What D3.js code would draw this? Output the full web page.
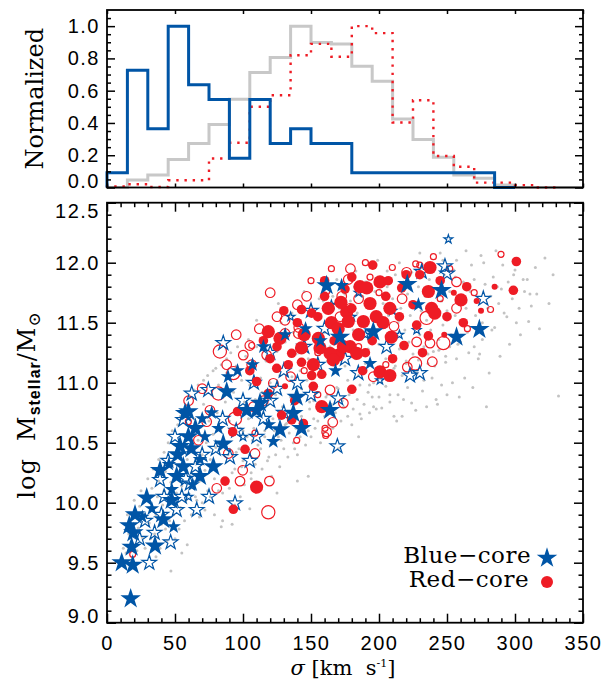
<!DOCTYPE html>
<html>
<head>
<meta charset="utf-8">
<script src="https://cdn.jsdelivr.net/npm/d3@7"></script>
<style>
  body { margin: 0; background: #fff; }
</style>
</head>
<body>
<div id="chart"></div>
<script>
// ---- data ----
// histogram: left bin edges (km/s) and normalized heights
var binEdges = [0,15,30,45,60,75,90,105,120,135,150,165,180,195,210,225,240,255,270,285,300,315,330,345];
var grayHist = [0,0.046,0.077,0.174,0.273,0.39,0.547,0.712,0.805,1.0,0.898,0.89,0.751,0.659,0.424,0.298,0.187,0.077,0.057,0.015,0,0,0,0];
var redHist  = [0.006,0.02,0.003,0.045,0.045,0.18,0.277,0.5,0.572,0.82,0.89,0.81,1.0,0.957,0.403,0.541,0.195,0.129,0.03,0.03,0.015,0];
var blueHist = [0.091,0.727,0.364,1.0,0.636,0.545,0.182,0.545,0.273,0.364,0.273,0.273,0.091,0.091,0.091,0.091,0.091,0.091,0.091,0];

var xTicks = [0,50,100,150,200,250,300,350];
var histTicks = [0,0.2,0.4,0.6,0.8,1.0];
var massTicks = [9.0,9.5,10.0,10.5,11.0,11.5,12.0,12.5];

// parent sample (grey dots): [sigma, logM]
var grayDots = [
 [14,9.58],[16,9.74],[19,9.66],[21,9.88],[23,9.79],[24,9.97],[26,9.71],[27,9.9],[29,10.02],[31,9.83],[32,9.96],[33,10.12],[35,9.74],[36,9.9],[37,10.05],[38,10.18],[40,9.82],[41,9.98],[42,10.1],[43,10.26],[44,9.68],[46,10.03],[47,9.43],[47,10.17],[48,10.31],[49,9.9],[51,10.08],[52,10.22],[53,10.38],[54,9.96],[55,9.58],[55,10.14],[56,10.47],[57,10.28],[58,10.02],[59,10.36],
 [60,10.58],[61,10.12],[62,10.25],[63,10.42],[64,10.7],[65,10.05],[66,10.33],[67,10.52],[68,10.18],[69,10.63],[70,10.4],[71,10.82],[72,10.27],[73,10.5],[74,10.1],[75,10.68],[76,10.36],[77,10.9],[78,10.57],[79,10.2],[80,10.46],[81,10.75],[82,10.98],[83,10.32],[84,10.62],[85,10.08],[86,10.5],[87,10.84],[88,11.08],[89,10.4],[90,10.68],[91,9.96],[92,10.56],[93,10.92],[94,10.28],[95,11.14],[96,10.76],[97,10.45],[98,10.62],[99,11.02],
 [100,10.35],[101,10.84],[102,11.22],[103,10.55],[104,10.7],[105,10.98],[106,10.2],[107,11.1],[108,10.62],[109,10.86],[110,11.3],[111,10.48],[112,10.75],[113,11.04],[114,10.92],[115,11.38],[116,10.6],[117,11.18],[118,10.82],[119,10.38],[120,11.0],[121,11.44],[122,10.7],[123,11.12],[124,10.9],[125,11.26],[126,10.55],[127,11.06],[128,11.5],[129,10.8],[130,10.98],[131,11.34],[132,10.66],[133,11.16],[134,11.56],[135,10.88],[136,11.05],[137,11.42],[138,10.45],[139,11.24],[140,10.76],[141,11.6],[142,11.1],[143,10.95],[144,11.32],[145,10.62],[146,11.48],[147,11.02],[148,11.2],[149,10.84],
 [150,11.64],[151,11.12],[152,10.7],[153,11.36],[154,10.98],[155,11.52],[156,11.25],[157,10.5],[158,11.06],[159,11.68],[160,11.42],[161,10.88],[162,11.18],[163,11.58],[164,11.3],[165,10.75],[166,11.72],[167,11.1],[168,11.46],[169,10.96],[170,11.24],[171,11.62],[172,11.36],[173,10.85],[174,11.75],[175,11.14],[176,11.52],[177,11.02],[178,11.3],[179,11.68],[180,10.92],[181,11.44],[182,11.8],[183,11.2],[184,11.58],[185,11.06],[186,10.74],[187,11.36],[188,11.72],[189,11.5],[190,11.16],[191,11.84],[192,11.28],[193,10.98],[194,11.62],[195,11.42],[196,10.8],[197,11.76],[198,11.1],[199,11.54],
 [200,11.32],[201,11.88],[202,11.0],[203,11.66],[204,11.46],[205,11.2],[206,11.8],[207,11.56],[208,10.9],[209,11.38],[210,11.7],[211,11.12],[212,11.9],[213,10.68],[214,11.5],[215,11.28],[216,11.62],[217,10.72],[218,11.84],[219,11.44],[220,11.18],[221,11.74],[222,11.34],[223,11.56],[224,11.92],[225,11.24],[226,11.66],[227,11.48],[228,11.08],[229,11.8],[230,11.4],[231,11.6],[232,11.96],[233,11.3],[234,11.72],[235,11.52],[236,11.16],[237,11.86],[238,11.44],[239,11.64],[240,11.26],[241,11.78],[242,11.56],[243,10.82],[244,11.36],[245,12.08],[246,11.68],[247,11.48],[248,11.9],[249,11.22],
 [250,11.6],[252,11.76],[253,11.4],[255,11.94],[256,11.56],[257,12.02],[258,11.32],[259,11.7],[261,11.5],[262,11.84],[264,11.62],[265,11.42],[267,11.76],[268,11.98],[270,11.3],[271,11.56],[272,11.68],[274,11.24],[275,12.06],[276,11.5],[278,11.82],[279,10.8],[280,11.62],[282,11.72],[284,11.88],[285,11.46],[286,12.1],[288,11.66],[290,11.78],[292,11.58],[295,11.84],[298,11.7],[300,11.94],[303,11.62],[306,11.86],[310,11.51],[311,11.74],[315,11.96],[322,12.04],[332,10.89],
 [12,9.62],[15,9.9],[18,9.52],[20,10.02],[22,9.6],[25,10.1],[28,9.62],[30,10.2],[32,9.7],[34,10.28],[36,9.55],[38,10.36],[39,9.62],[42,10.42],[43,9.78],[45,10.5],[46,9.85],[48,10.6],[50,9.7],[52,10.65],[53,9.78],[54,10.72],[57,9.85],[58,10.8],[59,9.65],
 [61,10.88],[62,9.9],[64,10.94],[66,10.02],[67,10.98],[68,9.88],[70,10.0],[71,11.02],[72,9.94],[74,11.06],[76,10.05],[78,11.1],[79,9.9],[80,11.12],[82,10.1],[84,11.15],[85,9.85],[86,10.2],[88,11.2],[90,10.12],[91,11.25],[92,10.25],[94,9.98],[95,10.42],[96,11.3],[98,10.05],[99,10.3],[84,9.8],[92,9.82],[105,9.95],[125,10.08],[140,10.18],[148,10.22],[170,10.45],[185,10.55],
 [100,10.6],[101,10.15],[103,10.42],[104,11.36],[106,10.25],[107,10.52],[109,10.32],[110,11.52],[111,10.1],[113,10.45],[114,10.28],[116,10.55],[117,11.44],[118,10.35],[120,10.48],[121,10.22],[123,10.6],[124,10.4],[126,11.66],[127,10.3],[128,10.52],[130,10.45],[131,10.65],[133,10.38],[134,10.58],[136,11.58],[137,10.5],[139,10.62],[140,10.4],[142,10.55],[143,10.72],[145,11.76],[146,10.48],[148,10.6],[149,10.78],
 [150,10.55],[152,10.85],[153,10.62],[155,10.68],[156,11.7],[157,10.78],[159,10.58],[160,10.72],[162,10.9],[163,10.65],[165,10.82],[166,10.62],[168,10.75],[169,11.86],[170,10.95],[172,10.68],[174,10.8],[175,11.74],[177,10.72],[178,10.9],[180,10.65],[181,10.78],[183,11.93],[184,10.86],[186,10.98],[187,10.7],[189,10.82],[190,11.84],[192,10.92],[193,10.75],[195,10.88],[196,11.0],[198,10.78],[199,12.02],
 [200,10.88],[202,10.79],[203,11.09],[205,10.97],[206,11.93],[208,10.84],[209,11.03],[211,10.72],[212,11.14],[214,10.9],[215,12.0],[217,11.06],[218,10.86],[220,11.16],[221,10.96],[223,11.9],[224,10.83],[226,11.1],[227,10.77],[229,11.19],[230,12.08],[232,10.93],[233,11.02],[235,10.8],[236,11.24],[238,11.97],[239,11.04],[241,11.14],[242,10.86],[244,11.27],[246,10.98],[247,12.02],[249,11.17],[250,10.9],[252,11.3],[254,11.0],[256,11.88],[257,11.2],[259,10.88],
 [260,11.34],[263,11.04],[264,12.1],[266,11.25],[269,10.96],[270,11.86],[273,11.2],[276,11.36],[277,12.0],[281,11.08],[283,11.44],[287,11.8],[289,11.22],[291,11.98],[294,11.55],[296,11.32],[299,11.9],[301,11.5],[304,11.4],[307,11.76],[309,11.86],[312,11.64],[316,11.74],[318,11.45],[325,11.66],[328,11.9]
];

// red-core: [sigma, logM, size class 1..3]
var redFilled = [
 [195.4,11.98,2],[237.5,11.96,3],[301,12.01,2],[298.8,11.77,2],[264.5,11.80,2],[260.3,11.69,3],[271.8,11.68,1],[236.3,11.76,3],[186,11.80,3],[191,11.79,3],[200.7,11.84,3],[206.8,11.85,2],[216.7,11.79,2],[193.4,11.66,3],[208,11.62,3],[238.7,11.62,3],[241,11.58,3],[188.5,11.51,3],[203,11.50,3],[227.7,11.48,2],[236.3,11.39,2],[209,11.38,3],[218.4,11.31,2],[178.7,11.30,3],[183.6,11.245,3],[170,11.23,3],[200.7,11.09,3],[208,11.06,3],[180,10.945,2],
 [143,11.61,2],[162.7,11.62,3],[150.5,11.58,2],[118.6,11.425,3],[127.2,11.37,3],[135.8,11.245,2],[143,11.29,3],[155.4,11.37,3],[156.6,11.29,3],[164,11.245,3],[173.8,11.30,3],[150.5,11.06,2],[151.7,10.97,2],[110,11.01,2],[119.9,11.20,2],[124.8,11.12,2],[133.3,11.15,2],[157.9,10.80,3],[130.9,10.97,1],[118.6,10.91,2],[176.2,11.59,3],[177.4,11.51,3],[151.7,11.15,3],[157.9,11.07,2],[166.4,11.19,3],[143,11.17,2],
 [92.4,10.59,2],[101.5,10.445,2],[86.8,10.18,2],[92.9,9.945,2],[110,10.13,3],[128.4,10.73,2],[144.4,10.66,2],[135.8,10.69,2],
 [165,11.5,3],[170,11.45,3],[185,11.4,3],[195,11.35,2],[160,11.72,2],[175,11.78,2],[155,11.55,2],[180,11.62,2],[190,11.25,2],[205,11.72,2],[215,11.55,2],[225,11.65,2],[230,11.9,2],[245,11.85,2],[250,11.55,2],[140,11.5,2],[130,11.6,2],[125,11.3,2],[115,11.35,2],[210,11.2,2],[145,11.4,3],[160,11.85,2],[198,11.55,3],[172,11.67,3],[188,11.1,2],[138,10.85,2],[96,10.76,2],[105,11.1,2],[220,11.9,2],[255,11.75,1],[180,11.88,2],[167,11.35,2],[232,11.25,2],[248,11.4,1],[262,11.5,2],[275,11.6,1],[285,11.8,1]
];
var redOpen = [
 [179,11.95,2],[177.4,11.86,2],[209.8,11.96,1],[227,11.99,1],[289.7,12.07,1],[282,11.61,1],[257,11.84,2],[257,11.62,2],[235,11.54,3],[237.5,11.33,2],[247.3,11.33,3],[227.7,11.34,2],[226.5,11.16,3],[239.2,11.175,2],[220.8,11.13,2],[195.8,11.05,2],[211,11.47,2],[217,11.70,2],[220.3,11.92,2],[230,11.98,1],[178.7,11.62,2],[172.6,11.72,2],[193.4,11.88,1],[171.3,11.55,2],
 [130.9,11.52,2],[106.4,11.31,1],[83,11.26,3],[100.2,11.23,2],[92.9,11.08,3],[81.9,10.91,3],[94.1,10.70,3],[75.7,10.77,2],[73.3,10.675,2],[146.8,11.72,2],[161.5,11.76,1],[130.9,11.41,2],[140.7,11.41,2],[117.4,11.23,2],[106.4,11.15,2],[122.3,10.995,2],[164,10.94,2],[173.8,10.83,2],[141,11.46,2],[161.5,10.59,2],[166,10.67,2],[105,11.31,2],
 [118.6,9.92,3],[119.4,10.18,2],[97.8,10.18,2],[80.7,10.12,2],[67.2,10.52,2],[99.8,10.27,2],[89.2,10.41,2],[108.8,10.41,2],[139.5,10.52,1],[160.3,10.62,1],[160.8,10.56,1],[18.9,9.57,1],[59.8,10.675,1],[107.6,10.80,2],[108.8,10.58,1],
 [150,11.85,1],[165,11.95,1],[185,11.7,2],[200,11.75,1],[190,12.0,1],[140,11.65,2],[125,11.55,2],[112,11.45,2],[95,11.4,2],[88,11.15,2],[70,10.95,2],[60,10.85,2],[135,11.05,2],[155,11.25,1],[185,11.3,1],[205,11.15,1],[245,11.7,1],[265,11.45,1],[270,11.75,1],[252,11.95,1],[240,12.05,1],[120,11.75,2],[145,11.1,1],[155,10.9,1],[115,10.85,2]
];

// blue-core: [sigma, logM, size class 1..3]
var blueFilled = [
 [10.8,9.50,3],
 [17.4,9.20,3],[18.9,9.48,3],[18.1,9.63,3],[19.4,9.75,3],[16.4,9.81,3],[20.6,9.90,3],[29.2,10.04,3],[26,9.88,2],
 [35.3,9.64,3],[41.4,9.86,3],[39,10.27,3],[33,9.95,2],
 [47.5,10.02,3],[51.2,10.22,3],[56.1,10.30,3],[47.6,10.11,2],[53.7,10.47,3],[59.8,10.55,3],[57.4,10.745,3],[59.8,10.76,3],[45.5,10.32,2],[52,10.40,3],[49,9.80,2],
 [68.4,10.22,3],[68.4,10.36,2],[65,10.62,3],[62,10.45,3],[72,10.55,2],[70,10.70,2],[63,10.15,2],
 [78.2,10.30,3],[85.5,10.49,3],[88,10.925,3],[82,10.62,2],[77,10.75,2],[89,11.05,2],
 [102.7,10.77,3],[96,11.1,2],
 [110,10.77,3],[112.5,10.83,3],[118,10.9,2],[107,11.15,2],[115,11.3,2],[119,10.65,2],
 [127.2,10.61,3],[122.3,10.51,2],[131,11.4,2],
 [143,10.62,3],[137,10.745,3],[139.5,10.88,3],[146,11.45,2],
 [161.5,11.81,3],[164,10.77,3],[157,11.35,2],
 [172.5,11.81,2],[171.3,11.38,3],[168,11.1,2],
 [193.4,11.16,2],[195.8,11.425,3],[220.8,11.82,3],[229,11.65,2],[246,11.77,3],[257,11.38,3],[273.8,11.445,3]
];
var blueOpen = [
 [24,9.70,2],[31.1,9.50,2],[46.8,9.67,2],[51.2,9.94,2],[56,10.69,2],[66,9.94,2],[61,10.16,2],[39,10.19,2],[62.3,10.91,2],[74.5,10.94,2],[85.5,11.33,2],[80,10.45,2],[94.1,9.995,2],[90.4,10.38,2],[110,10.55,2],[108,11.0,2],[130,11.1,2],[145,11.3,2],[169.4,10.47,2],[155,11.15,2],
 [251,12.195,1],[248.5,11.97,2],[250,11.91,2],[231.4,11.925,2],[276.7,11.70,2],[222.8,11.06,2],[230,11.08,2],[200.7,11.02,1],[184.8,11.08,2],[170,10.87,2],[205.6,11.30,2],[227.7,11.44,1],
 [120,11.25,2],[135,11.55,1],[150,11.6,2],[100,10.85,2],[125,10.95,2],[140,11.0,2],[160,11.45,2],[180,11.55,1],[70,10.4,2],[40,9.9,2],[28,9.85,2],[55,10.05,2],[95,10.6,2],[115,10.7,2],[185,11.75,1],[210,11.6,1],[175,11.2,2],[150,10.9,2],[45,10.35,2],[65,10.3,2],[75,10.05,2],[105,10.35,2],[130,10.75,2],[190,11.4,1],[165,11.65,1],[215,11.4,1],
 [35,9.75,2],[42,10.05,2],[58,10.2,2],[50,10.55,2],[85,10.7,2],[100,10.55,1],[120,10.85,2],[60,10.05,1]
];

// ---- Step 1: set up chart ----
var svgWidth = 607, svgHeight = 692;
var plotLeft = 107, plotRight = 583;
var histTop = 10, histBottom = 187.5;
var massTop = 202.7, massBottom = 622.7;

var blue = "#0055a6", red = "#ee1c25", grey = "#c3c3c3";
var sansFont = "'Liberation Sans', Arial, sans-serif";
var serifFont = "'DejaVu Serif', serif";

var svg = d3.select("#chart").append("svg")
  .attr("width", svgWidth)
  .attr("height", svgHeight)
  .style("background", "#fff");

// ---- Step 2: scales ----
var x = d3.scaleLinear().domain([0, 350]).range([plotLeft, plotRight]);
var yHist = d3.scaleLinear().domain([0, 1.1]).range([histBottom, histTop]);
var yMass = d3.scaleLinear().domain([9.0, 12.5]).range([massBottom, massTop]);
var starR = d3.scaleLinear().domain([1, 3]).range([4.6, 10.8]);
var circR = d3.scaleLinear().domain([1, 3]).range([3, 6.6]);

// ---- Step 3: histogram panel ----
function stepPoints(vals) {
  var pts = [[0, 0]];
  vals.forEach(function(v, i) { pts.push([binEdges[i], v]); });
  var end = Math.min(binEdges[vals.length - 1] + 15, 350);
  pts.push([end, vals[vals.length - 1]]);
  return pts;
}
var stepLine = d3.line()
  .x(d => x(d[0]))
  .y(d => yHist(d[1]))
  .curve(d3.curveStepAfter);

svg.append("path").datum(stepPoints(grayHist))
  .attr("d", stepLine).attr("fill", "none")
  .attr("stroke", "#c8c8c8").attr("stroke-width", 3);
svg.append("path").datum(stepPoints(redHist))
  .attr("d", stepLine).attr("fill", "none")
  .attr("stroke", red).attr("stroke-width", 2.4)
  .attr("stroke-dasharray", "2.4,5.8");
svg.append("path").datum(stepPoints(blueHist))
  .attr("d", stepLine).attr("fill", "none")
  .attr("stroke", blue).attr("stroke-width", 3);

// ---- Step 4: scatter panel ----
var scatter = svg.append("g");

scatter.selectAll(".gdot").data(grayDots).enter()
  .append("circle")
  .attr("cx", d => x(d[0]))
  .attr("cy", d => yMass(d[1]))
  .attr("r", 1.5)
  .attr("fill", grey);

var star = d3.symbol().type(d3.symbolStar);
function starPath(d) { var r = starR(d[2]); return star.size(r * r / 0.8908130915)(); }

scatter.selectAll(".ropen").data(redOpen).enter()
  .append("circle")
  .attr("cx", d => x(d[0]))
  .attr("cy", d => yMass(d[1]))
  .attr("r", d => circR(d[2]))
  .attr("fill", "none")
  .attr("stroke", red)
  .attr("stroke-width", 1.2);

scatter.selectAll(".bopen").data(blueOpen).enter()
  .append("path")
  .attr("transform", d => "translate(" + x(d[0]) + "," + yMass(d[1]) + ")")
  .attr("d", starPath)
  .attr("fill", "none")
  .attr("stroke", blue)
  .attr("stroke-width", 1.2);

scatter.selectAll(".rfill").data(redFilled).enter()
  .append("circle")
  .attr("cx", d => x(d[0]))
  .attr("cy", d => yMass(d[1]))
  .attr("r", d => circR(d[2]))
  .attr("fill", red);

scatter.selectAll(".bfill").data(blueFilled).enter()
  .append("path")
  .attr("transform", d => "translate(" + x(d[0]) + "," + yMass(d[1]) + ")")
  .attr("d", starPath)
  .attr("fill", blue);

// ---- Step 5: frames and ticks ----
function styleAxis(g) {
  g.select(".domain").remove();
  g.selectAll("line").attr("stroke", "#000").attr("stroke-width", 1.5);
}
var minorX = x.ticks(35).filter(v => v % 50 !== 0);
var minorHist = d3.range(0, 1.1, 0.05).filter((v, i) => i % 4 !== 0);
var minorMass = d3.range(9.0, 12.5, 0.1).filter((v, i) => i % 5 !== 0);

// top panel: x ticks at the 50s only, short
[["bottom", histBottom], ["top", histTop]].forEach(function(p) {
  var ax = (p[0] === "bottom" ? d3.axisBottom(x) : d3.axisTop(x))
    .tickValues(xTicks).tickSize(-4).tickFormat("");
  svg.append("g").attr("transform", "translate(0," + p[1] + ")").call(ax).call(styleAxis);
});
svg.append("g").attr("transform", "translate(" + plotLeft + ",0)")
  .call(d3.axisLeft(yHist).tickValues(minorHist).tickSize(-4).tickFormat("")).call(styleAxis);
svg.append("g").attr("transform", "translate(" + plotRight + ",0)")
  .call(d3.axisRight(yHist).tickValues(minorHist).tickSize(-4).tickFormat("")).call(styleAxis);
svg.append("g").attr("transform", "translate(" + plotRight + ",0)")
  .call(d3.axisRight(yHist).tickValues(histTicks).tickSize(-8).tickFormat("")).call(styleAxis);
var histLeft = svg.append("g").attr("transform", "translate(" + plotLeft + ",0)")
  .call(d3.axisLeft(yHist).tickValues(histTicks).tickSize(-8).tickPadding(7).tickFormat(d3.format(".1f")))
  .call(styleAxis);

// bottom panel
svg.append("g").attr("transform", "translate(0," + massBottom + ")")
  .call(d3.axisBottom(x).tickValues(minorX).tickSize(-4.5).tickFormat("")).call(styleAxis);
svg.append("g").attr("transform", "translate(0," + massTop + ")")
  .call(d3.axisTop(x).tickValues(minorX).tickSize(-4.5).tickFormat("")).call(styleAxis);
svg.append("g").attr("transform", "translate(0," + massTop + ")")
  .call(d3.axisTop(x).tickValues(xTicks).tickSize(-9).tickFormat("")).call(styleAxis);
var massX = svg.append("g").attr("transform", "translate(0," + massBottom + ")")
  .call(d3.axisBottom(x).tickValues(xTicks).tickSize(-9).tickPadding(13).tickFormat(d3.format("d")))
  .call(styleAxis);

svg.append("g").attr("transform", "translate(" + plotLeft + ",0)")
  .call(d3.axisLeft(yMass).tickValues(minorMass).tickSize(-4.5).tickFormat("")).call(styleAxis);
svg.append("g").attr("transform", "translate(" + plotRight + ",0)")
  .call(d3.axisRight(yMass).tickValues(minorMass).tickSize(-4.5).tickFormat("")).call(styleAxis);
svg.append("g").attr("transform", "translate(" + plotRight + ",0)")
  .call(d3.axisRight(yMass).tickValues(massTicks).tickSize(-9).tickFormat("")).call(styleAxis);
var massLeft = svg.append("g").attr("transform", "translate(" + plotLeft + ",0)")
  .call(d3.axisLeft(yMass).tickValues(massTicks).tickSize(-9).tickPadding(7).tickFormat(d3.format(".1f")))
  .call(styleAxis);

[histLeft, massLeft, massX].forEach(function(g) {
  g.attr("font-family", null).attr("font-size", null);
  g.selectAll("text")
    .attr("font-family", sansFont)
    .attr("font-size", 20)
    .attr("letter-spacing", 1.5)
    .attr("fill", "#000");
});
// end labels are pulled inside the frame, as in the original
histLeft.selectAll(".tick").filter(d => d === 0).select("text").attr("y", -6);
massLeft.selectAll(".tick").filter(d => d === 9.0).select("text").attr("y", -7);
massLeft.selectAll(".tick").filter(d => d === 12.5).select("text").attr("y", 8);

svg.append("rect").attr("x", plotLeft).attr("y", histTop)
  .attr("width", plotRight - plotLeft).attr("height", histBottom - histTop)
  .attr("fill", "none").attr("stroke", "#000").attr("stroke-width", 1.8);
svg.append("rect").attr("x", plotLeft).attr("y", massTop)
  .attr("width", plotRight - plotLeft).attr("height", massBottom - massTop)
  .attr("fill", "none").attr("stroke", "#000").attr("stroke-width", 1.8);

// ---- Step 6: axis titles ----
svg.append("text")
  .attr("transform", "translate(43," + (histTop + histBottom) / 2 + ") rotate(-90)")
  .attr("text-anchor", "middle")
  .attr("font-family", serifFont)
  .attr("font-size", 24)
  .text("Normalized");

var ylab = svg.append("text")
  .attr("transform", "translate(35,405) rotate(-90)")
  .attr("text-anchor", "middle")
  .attr("font-family", serifFont)
  .attr("font-size", 24)
  .attr("letter-spacing", 1);
ylab.append("tspan").text("log\u00a0\u00a0M");
ylab.append("tspan").attr("dy", 5).attr("font-family", sansFont)
  .attr("font-weight", "bold").attr("font-size", 16).text("stellar");
ylab.append("tspan").attr("dy", -5).text("/M");
ylab.append("tspan").attr("dy", 5).attr("font-size", 17).text("\u2299");

var xlab = svg.append("text")
  .attr("x", 343).attr("y", 675)
  .attr("text-anchor", "middle")
  .attr("font-family", serifFont)
  .attr("font-size", 21);
xlab.append("tspan").attr("font-style", "italic").text("\u03c3");
xlab.append("tspan").text("\u00a0[km\u00a0\u00a0s");
xlab.append("tspan").attr("dy", -8).attr("font-size", 11).text("-1");
xlab.append("tspan").attr("dy", 8).text("]");

// ---- Step 7: legend ----
var legend = svg.append("g").attr("font-family", serifFont).attr("font-size", 23).attr("letter-spacing", 0.5);
legend.append("text").attr("x", 531).attr("y", 563).attr("text-anchor", "end").text("Blue\u2212core");
legend.append("text").attr("x", 529).attr("y", 587).attr("text-anchor", "end").text("Red\u2212core");
legend.append("path")
  .attr("transform", "translate(547,558)")
  .attr("d", starPath([0, 0, 3]))
  .attr("fill", blue);
legend.append("circle").attr("cx", 547).attr("cy", 582).attr("r", 6).attr("fill", red);
</script>
</body>
</html>
